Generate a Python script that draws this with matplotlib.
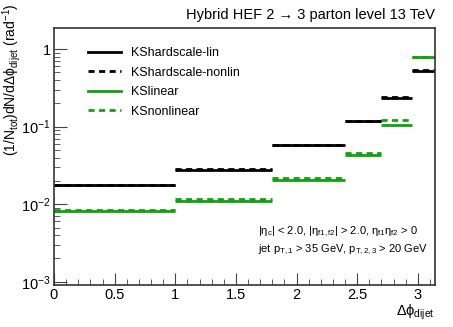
import numpy as np
import matplotlib.pyplot as plt
from matplotlib.ticker import LogLocator, NullFormatter, MultipleLocator, FuncFormatter

plt.rcParams['font.family'] = ['Liberation Sans', 'DejaVu Sans']
plt.rcParams['mathtext.fontset'] = 'custom'
plt.rcParams['mathtext.rm'] = 'Liberation Sans'
plt.rcParams['mathtext.it'] = 'Liberation Sans'

# bin edges in delta phi
edges = [0.0, 1.0, 1.8, 2.4, 2.7, 2.95, np.pi]

ks_hard_lin = [0.0175, 0.0279, 0.0578, 0.117, 0.236, 0.525]
ks_hard_nonlin = [0.0177, 0.0282, 0.0585, 0.119, 0.240, 0.535]
ks_linear = [0.0083, 0.0109, 0.0203, 0.0432, 0.106, 0.790]
ks_nonlinear = [0.0084, 0.0117, 0.0220, 0.0463, 0.122, 0.800]

green = '#12a012'
dash = (0, (2.2, 1.6))

fig = plt.figure(figsize=(4.53, 3.27), dpi=100)
ax = fig.add_axes([54 / 453, 42 / 327, 381 / 453, 257 / 327])

lo = edges[:-1]
hi = edges[1:]
ax.hlines(ks_linear, lo, hi, colors=green, lw=2)
ax.hlines(ks_nonlinear, lo, hi, colors=green, lw=2, linestyles=dash)
ax.hlines(ks_hard_lin, lo, hi, colors='black', lw=2)
ax.hlines(ks_hard_nonlin, lo, hi, colors='black', lw=2, linestyles=dash)

# legend handles
h1, = ax.plot([], [], color='black', lw=2, label='KShardscale-lin')
h2, = ax.plot([], [], color='black', lw=2, ls=dash, label='KShardscale-nonlin')
h3, = ax.plot([], [], color=green, lw=2, label='KSlinear')
h4, = ax.plot([], [], color=green, lw=2, ls=dash, label='KSnonlinear')
ax.legend(handles=[h1, h2, h3, h4], loc='upper left', bbox_to_anchor=(0.075, 0.945),
          frameon=False, fontsize=9, handlelength=2.7, handletextpad=0.75,
          labelspacing=0.6, borderaxespad=0)

ax.set_yscale('log')
ax.set_xlim(0, np.pi)
ax.set_ylim(9.1e-4, 1.87)

ax.xaxis.set_major_locator(MultipleLocator(0.5))
ax.xaxis.set_minor_locator(MultipleLocator(0.1))
ax.xaxis.set_major_formatter(FuncFormatter(lambda v, p: f'{v:g}'))
ax.yaxis.set_minor_locator(LogLocator(base=10, subs=np.arange(2, 10), numticks=20))
ax.yaxis.set_minor_formatter(NullFormatter())
ax.set_yticks([1e-3, 1e-2, 1e-1, 1])
ax.set_yticklabels([r'$10^{-3}$', r'$10^{-2}$', r'$10^{-1}$', '1'])

ax.tick_params(axis='both', which='both', direction='in', top=False, right=False,
               labelsize=10.5, color='#444444')
ax.tick_params(axis='x', which='major', length=9, pad=2)
ax.tick_params(axis='x', which='minor', length=4.5)
ax.tick_params(axis='y', which='major', length=9, pad=2.5)
ax.tick_params(axis='y', which='minor', length=4.5)
for s in ax.spines.values():
    s.set_linewidth(1.2)
    s.set_color('#333333')

fig.text(435 / 453, 1 - 15 / 327, 'Hybrid HEF 2 → 3 parton level 13 TeV',
         ha='right', va='center', fontsize=10.5)

ax.text(0.535, 0.205, r'$|\eta_{c}|$ < 2.0, $|\eta_{f1,f2}|$ > 2.0, $\eta_{f1}\eta_{f2}$ > 0',
        transform=ax.transAxes, fontsize=8, ha='left', va='center')
ax.text(0.535, 0.135, r'jet p$_{T,1}$ > 35 GeV, p$_{T,2,3}$ > 20 GeV',
        transform=ax.transAxes, fontsize=8, ha='left', va='center')

fig.text(435 / 453, 1 - 312 / 327, r'$\Delta\phi_{\rm dijet}$', ha='right', va='center',
         fontsize=10.5)
fig.text(12 / 453, 1 - 3 / 327, r'(1/N$_{\rm tot}$)dN/d$\Delta\phi_{\rm dijet}$ (rad$^{-1}$)',
         rotation=90, ha='center', va='top', fontsize=10)

fig.savefig('out.png', dpi=100)
